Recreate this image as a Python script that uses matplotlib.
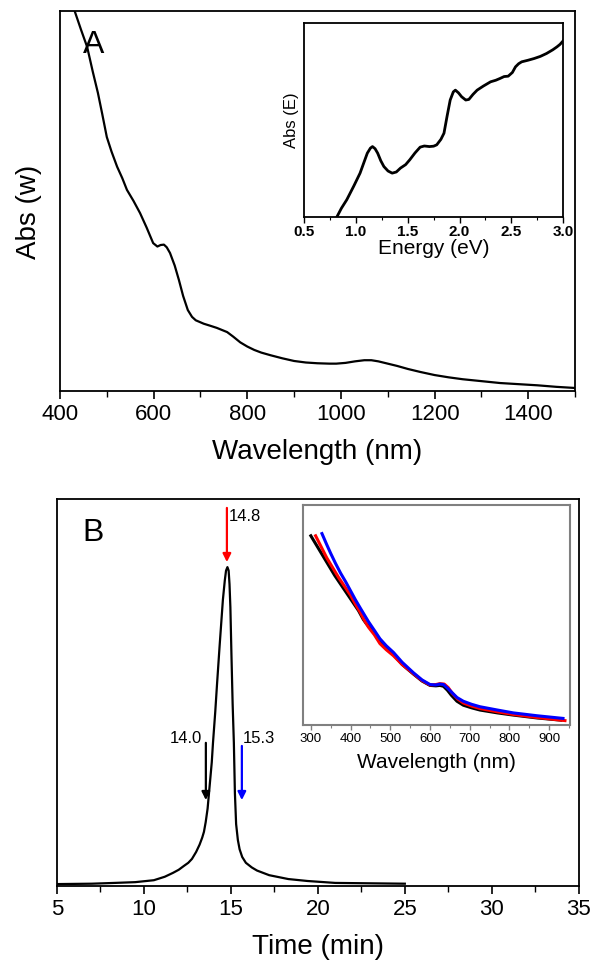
import matplotlib
matplotlib.use("Agg")
import matplotlib.pyplot as plt
from matplotlib.ticker import MultipleLocator, NullLocator

plt.rcParams['font.family'] = ['Liberation Sans', 'DejaVu Sans']

# panel A: absorbance vs wavelength
wl = [400, 415, 432, 445, 458, 470, 481, 490, 500, 510, 522, 533, 543, 557, 571, 585, 599,
      608, 615, 622, 628, 635, 645, 654, 663, 673, 682, 690, 707, 720, 735, 757, 770, 785,
      800, 815, 830, 850, 875, 900, 925, 950, 975, 990, 1010, 1030, 1050, 1065, 1080, 1100,
      1120, 1143, 1170, 1200, 1230, 1260, 1300, 1340, 1380, 1420, 1460, 1500]
abs_w = [1.12, 1.06, 0.997, 0.95, 0.905, 0.84, 0.784, 0.73, 0.668, 0.63, 0.59, 0.56, 0.529,
         0.50, 0.468, 0.43, 0.389, 0.380, 0.384, 0.385, 0.378, 0.363, 0.33, 0.292, 0.25, 0.213,
         0.195, 0.186, 0.177, 0.172, 0.166, 0.155, 0.143, 0.128, 0.117, 0.108, 0.101, 0.094,
         0.086, 0.079, 0.075, 0.073, 0.072, 0.072, 0.074, 0.078, 0.081, 0.081, 0.078, 0.072,
         0.066, 0.058, 0.050, 0.042, 0.036, 0.031, 0.026, 0.021, 0.018, 0.015, 0.011, 0.008]

# inset A: absorbance vs energy
energy = [0.816, 0.86, 0.912, 0.98, 1.04, 1.08, 1.11, 1.14, 1.16, 1.185, 1.21, 1.24, 1.27,
          1.31, 1.35, 1.39, 1.43, 1.48, 1.52, 1.57, 1.62, 1.66, 1.71, 1.75, 1.78, 1.82, 1.85,
          1.88, 1.91, 1.94, 1.96, 1.99, 2.02, 2.06, 2.09, 2.13, 2.17, 2.23, 2.30, 2.35, 2.39,
          2.43, 2.47, 2.51, 2.54, 2.57, 2.60, 2.66, 2.72, 2.78, 2.84, 2.90, 2.94, 2.97, 3.0]
abs_e = [0.0, 0.045, 0.089, 0.16, 0.226, 0.285, 0.329, 0.355, 0.363, 0.352, 0.329, 0.29,
         0.260, 0.237, 0.226, 0.232, 0.252, 0.27, 0.295, 0.33, 0.360, 0.366, 0.363, 0.365,
         0.372, 0.40, 0.432, 0.52, 0.603, 0.645, 0.654, 0.64, 0.620, 0.603, 0.606, 0.632,
         0.654, 0.675, 0.697, 0.705, 0.714, 0.724, 0.726, 0.745, 0.774, 0.790, 0.800, 0.808,
         0.817, 0.828, 0.843, 0.862, 0.877, 0.89, 0.908]

# panel B: chromatogram
t = [5, 7, 8.3, 9.5, 10.57, 11.2, 11.67, 12.0, 12.3, 12.55, 12.76, 13.0, 13.2, 13.35, 13.45,
     13.55, 13.66, 13.8, 13.9, 13.97, 14.1, 14.2, 14.35, 14.54, 14.65, 14.72, 14.8, 14.87,
     14.92, 14.97, 15.03, 15.1, 15.17, 15.23, 15.3, 15.4, 15.5, 15.65, 15.86, 16.2, 16.5,
     17.2, 18.3, 19.4, 21, 23, 25]
signal = [0.005, 0.006, 0.008, 0.010, 0.015, 0.024, 0.034, 0.042, 0.052, 0.060, 0.070, 0.088,
          0.107, 0.125, 0.14, 0.165, 0.20, 0.27, 0.32, 0.37, 0.45, 0.52, 0.62, 0.74, 0.79,
          0.815, 0.824, 0.815, 0.78, 0.72, 0.60, 0.47, 0.37, 0.24, 0.16, 0.119, 0.095, 0.075,
          0.060, 0.048, 0.040, 0.028, 0.018, 0.013, 0.008, 0.007, 0.006]

# arrows: time, y start, y end, colour, label
arr_t = [14.77, 13.56, 15.63]
arr_y0 = [0.977, 0.370, 0.362]
arr_y1 = [0.837, 0.222, 0.222]
arr_col = ['red', 'black', 'blue']
arr_lab = ['14.8', '14.0', '15.3']

# inset B: spectra of the three fractions
wl_k = [300, 315, 330, 345, 360, 375, 390, 405, 420, 432, 440, 450, 460, 474, 490, 508, 530,
        558, 580, 600, 615, 625, 634, 644, 654, 668, 684, 705, 726, 770, 810, 870, 930]
ab_k = [0.86, 0.815, 0.77, 0.725, 0.68, 0.64, 0.60, 0.56, 0.52, 0.48, 0.46, 0.44, 0.42,
        0.380, 0.350, 0.320, 0.275, 0.232, 0.200, 0.180, 0.178, 0.180, 0.176, 0.158, 0.135,
        0.108, 0.090, 0.078, 0.068, 0.055, 0.045, 0.032, 0.022]
wl_r = [312, 326, 340, 355, 370, 385, 400, 412, 425, 435, 445, 460, 474, 490, 508, 530, 558,
        580, 600, 615, 625, 636, 646, 656, 670, 684, 705, 726, 770, 810, 870, 940]
ab_r = [0.86, 0.81, 0.76, 0.715, 0.67, 0.63, 0.59, 0.55, 0.51, 0.475, 0.445, 0.41, 0.370,
        0.342, 0.315, 0.275, 0.234, 0.202, 0.182, 0.184, 0.188, 0.186, 0.170, 0.145, 0.118,
        0.100, 0.086, 0.075, 0.060, 0.048, 0.034, 0.020]
wl_b = [328, 340, 350, 362, 375, 388, 400, 412, 425, 435, 445, 460, 474, 490, 508, 530, 558,
        580, 600, 615, 625, 634, 644, 654, 668, 684, 705, 726, 770, 810, 870, 935]
ab_b = [0.87, 0.82, 0.78, 0.735, 0.69, 0.65, 0.61, 0.57, 0.53, 0.50, 0.47, 0.43, 0.392,
        0.360, 0.330, 0.285, 0.238, 0.205, 0.184, 0.182, 0.186, 0.184, 0.168, 0.150, 0.125,
        0.108, 0.094, 0.083, 0.068, 0.055, 0.042, 0.030]

fig = plt.figure(figsize=(6.01, 9.80), dpi=100)

# ---- panel A
ax1 = fig.add_axes([0.0998, 0.601, 0.857, 0.388])
ax1.plot(wl, abs_w, color='black', lw=1.6)
ax1.set_xlim(400, 1500)
ax1.set_ylim(0, 1)
ax1.xaxis.set_major_locator(MultipleLocator(200))
ax1.xaxis.set_minor_locator(MultipleLocator(100))
ax1.yaxis.set_major_locator(NullLocator())
ax1.tick_params(axis='x', which='major', labelsize=16, length=6, width=1.2, direction='out')
ax1.tick_params(axis='x', which='minor', length=4, width=1.0, direction='out')
ax1.set_xlabel('Wavelength (nm)', fontsize=20, labelpad=10)
ax1.set_ylabel('Abs (w)', fontsize=20)
ax1.yaxis.set_label_coords(-0.035, 0.47)
ax1.text(0.045, 0.95, 'A', transform=ax1.transAxes, fontsize=23, va='top', ha='left')
for s in ax1.spines.values():
    s.set_linewidth(1.3)

axi1 = fig.add_axes([0.506, 0.7786, 0.431, 0.1979])
axi1.plot(energy, abs_e, color='black', lw=2.0)
axi1.set_xlim(0.5, 3.0)
axi1.set_ylim(0, 1)
axi1.xaxis.set_major_locator(MultipleLocator(0.5))
axi1.xaxis.set_minor_locator(MultipleLocator(0.25))
axi1.yaxis.set_major_locator(NullLocator())
axi1.tick_params(axis='x', which='major', labelsize=11, length=4, width=1.0, direction='out', pad=2)
axi1.tick_params(axis='x', which='minor', length=2.5, width=0.8, direction='out')
for lab in axi1.get_xticklabels():
    lab.set_fontweight('bold')
axi1.set_xlabel('Energy (eV)', fontsize=15, labelpad=0)
axi1.set_ylabel('Abs (E)', fontsize=12, labelpad=4)
for s in axi1.spines.values():
    s.set_linewidth(1.3)

# ---- panel B
ax2 = fig.add_axes([0.0948, 0.0959, 0.8682, 0.3949])
ax2.plot(t, signal, color='black', lw=1.6)
ax2.set_xlim(5, 35)
ax2.set_ylim(0, 1)
ax2.xaxis.set_major_locator(MultipleLocator(5))
ax2.xaxis.set_minor_locator(MultipleLocator(2.5))
ax2.yaxis.set_major_locator(NullLocator())
ax2.tick_params(axis='x', which='major', labelsize=16, length=6, width=1.2, direction='out')
ax2.tick_params(axis='x', which='minor', length=4, width=1.0, direction='out')
ax2.set_xlabel('Time (min)', fontsize=20, labelpad=10)
ax2.text(0.048, 0.951, 'B', transform=ax2.transAxes, fontsize=23, va='top', ha='left')
for s in ax2.spines.values():
    s.set_linewidth(1.3)

for x, y0, y1, c in zip(arr_t, arr_y0, arr_y1, arr_col):
    ax2.annotate('', xy=(x, y1), xytext=(x, y0),
                 arrowprops=dict(arrowstyle='-|>', color=c, lw=1.6, mutation_scale=12,
                                 shrinkA=0, shrinkB=0))
ax2.text(14.85, 0.955, arr_lab[0], fontsize=12, ha='left', va='center')
ax2.text(13.35, 0.382, arr_lab[1], fontsize=12, ha='right', va='center')
ax2.text(15.7, 0.382, arr_lab[2], fontsize=12, ha='left', va='center')

axi2 = fig.add_axes([0.504, 0.2602, 0.444, 0.2245])
axi2.plot(wl_k, ab_k, color='black', lw=2.2)
axi2.plot(wl_r, ab_r, color='red', lw=2.2)
axi2.plot(wl_b, ab_b, color='blue', lw=2.2)
axi2.set_xlim(280, 952)
axi2.set_ylim(0, 1)
axi2.xaxis.set_major_locator(MultipleLocator(100))
axi2.xaxis.set_minor_locator(MultipleLocator(50))
axi2.yaxis.set_major_locator(NullLocator())
axi2.tick_params(axis='x', which='major', labelsize=9.5, length=3.5, width=1.0, direction='out',
                 color='#808080', pad=2)
axi2.tick_params(axis='x', which='minor', length=2, width=0.8, direction='out', color='#808080')
axi2.set_xlabel('Wavelength (nm)', fontsize=15, labelpad=6)
for s in axi2.spines.values():
    s.set_linewidth(1.5)
    s.set_color('#808080')

fig.savefig('out.png', dpi=100)
